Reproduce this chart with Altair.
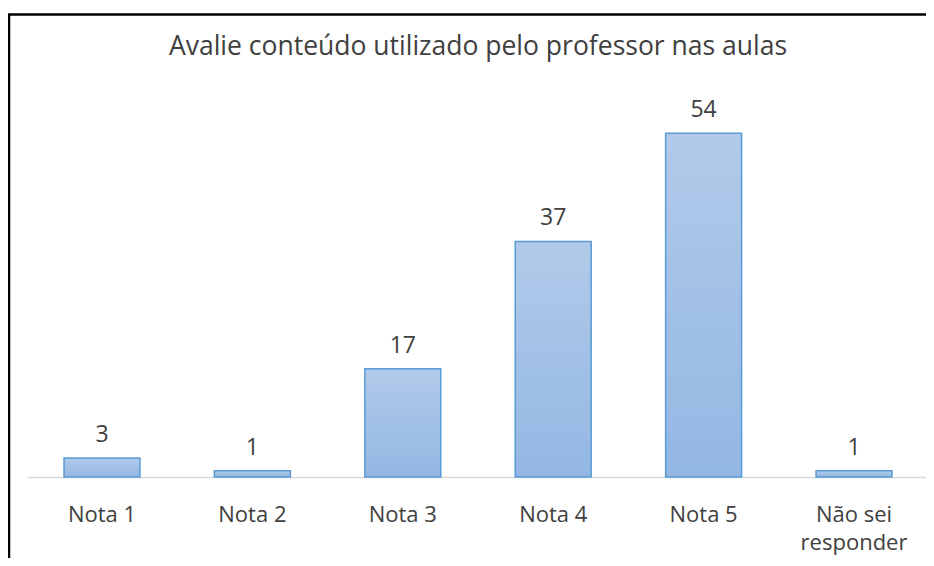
import altair as alt
import pandas as pd

categories = ["Nota 1", "Nota 2", "Nota 3", "Nota 4", "Nota 5", "Não sei responder"]
values = [3, 1, 17, 37, 54, 1]
title_text = "Avalie conteúdo utilizado pelo professor nas aulas"

df = pd.DataFrame({"cat": categories, "val": values})
FONT = "Open Sans"

x = alt.X("cat:N", sort=categories, title=None,
          scale=alt.Scale(range=[0, 902], paddingInner=0.495, paddingOuter=0.246),
          axis=alt.Axis(labelAngle=0, ticks=False, domainColor="#d9d9d9", domainWidth=1.3,
                        labelFont=FONT, labelFontSize=22, labelColor="#404040",
                        labelPadding=27, labelBaseline="top", labelLineHeight=28.5,
                        labelExpr="datum.value == 'Não sei responder' ? ['Não sei', 'responder'] : datum.value"))
y = alt.Y("val:Q", scale=alt.Scale(domain=[0, 60]), axis=None)

grad = alt.Gradient(gradient="linear", x1=0, y1=0, x2=0, y2=1,
                    stops=[alt.GradientStop(color="#b1cae9", offset=0),
                           alt.GradientStop(color="#93b7e3", offset=1)])

bars = alt.Chart(df).mark_bar(fill=grad, stroke="#5b9bd5", strokeWidth=1.5).encode(x=x, y=y)
labels = alt.Chart(df).mark_text(font=FONT, fontSize=23, color="#404040", baseline="bottom", dy=-11).encode(
    x=x, y=y, text="val:Q")

title_df = pd.DataFrame({"t": [title_text]})
title = alt.Chart(title_df).mark_text(font=FONT, fontSize=26.5, color="#404040", baseline="middle",
                                      align="center").encode(
    x=alt.value(451), y=alt.value(-48), text="t:N")

border_df = pd.DataFrame({"k": [0]})
left_border = alt.Chart(border_df).mark_rule(color="black", strokeWidth=2.5).encode(
    x=alt.value(-18), y=alt.value(-81), y2=alt.value(700))
top_border = alt.Chart(border_df).mark_rule(color="black", strokeWidth=2.5).encode(
    x=alt.value(-19), x2=alt.value(1000), y=alt.value(-80.5))

chart = alt.layer(bars, labels, title, left_border, top_border).properties(
    width=899, height=382,
    autosize=alt.AutoSizeParams(type="none"),
    padding={"left": 19, "top": 87, "right": 0, "bottom": 81},
).configure_view(stroke=None)

chart.save("out.html", embed_options={"renderer": "svg", "actions": False})
